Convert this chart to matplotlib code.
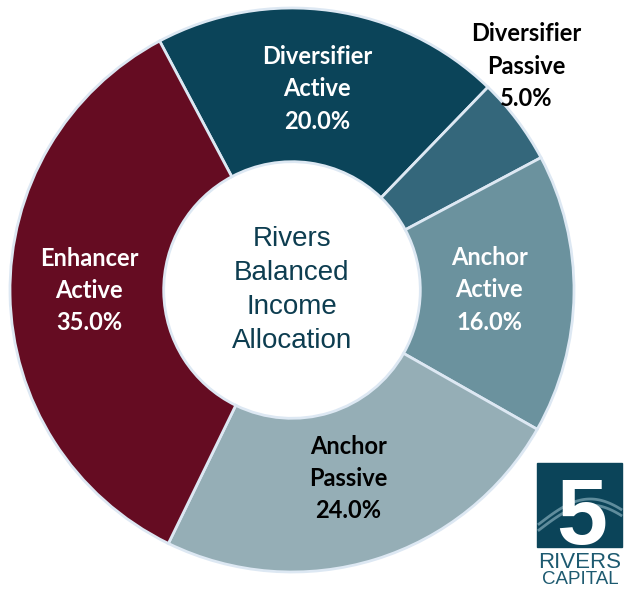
import numpy as np
import matplotlib.pyplot as plt
from matplotlib.patches import Rectangle

# slices, clockwise from the upper left
names = ["Diversifier\nActive", "Diversifier\nPassive", "Anchor\nActive",
         "Anchor\nPassive", "Enhancer\nActive"]
weights = [20.0, 5.0, 16.0, 24.0, 35.0]
colors = ["#0b4459", "#34677b", "#6b929e", "#95aeb6", "#650c22"]
text_colors = ["white", "black", "white", "black", "white"]
center_title = "Rivers\nBalanced\nIncome\nAllocation"

fig = plt.figure(figsize=(6.24, 5.89), dpi=100)
W, H = 624, 589
cx, cy, R = 292, 299, 282
ax = fig.add_axes([(cx - R) / W, (cy - R) / H, 2 * R / W, 2 * R / H])

wedges, _ = ax.pie(weights, colors=colors, startangle=118, counterclock=False,
                   radius=1.0,
                   wedgeprops=dict(width=0.545, edgecolor="#dde8f3", linewidth=2))
ax.set_xlim(-1, 1)
ax.set_ylim(-1, 1)

for i, w in enumerate(wedges):
    mid = np.deg2rad((w.theta1 + w.theta2) / 2)
    r = 0.71
    if weights[i] < 10:
        # small slice: label sits outside the ring
        mid = np.deg2rad(43)
        r = 1.15
    ax.text(r * np.cos(mid) - 0.01, r * np.sin(mid) + 0.01,
            "%s\n%.1f%%" % (names[i], weights[i]),
            ha="center", va="center", color=text_colors[i],
            fontsize=17, fontweight="bold", family="Lato",
            linespacing=1.48, clip_on=False)

ax.text(0, 0.0, center_title, ha="center", va="center", color="#0d3d50",
        fontsize=20, family="Liberation Sans", linespacing=1.4)

# logo, bottom right
fig.patches.append(Rectangle((537 / W, 1 - 547 / H), 85 / W, 84 / H,
                             transform=fig.transFigure, color="#0b4459"))
t = np.linspace(0, 1, 50)
for off in (0, 6):
    fig.lines.append(plt.Line2D((539 + 82 * t) / W,
                                1 - (530 - off - 25 * np.sin(np.pi * t * 0.8)) / H,
                                transform=fig.transFigure, color="#5f8c9c",
                                linewidth=2))
fig.text(582 / W, 1 - 544 / H, "5", ha="center", va="baseline", color="white",
         fontsize=66, fontweight="bold", family="Liberation Sans")
fig.text(580 / W, 1 - 563 / H, "RIVERS", ha="center", va="center",
         color="#1d5a70", fontsize=16, family="Liberation Sans")
fig.text(580 / W, 1 - 580 / H, "CAPITAL", ha="center", va="center",
         color="#1d5a70", fontsize=13.5, family="Liberation Sans")

fig.savefig("out.png", dpi=100)
